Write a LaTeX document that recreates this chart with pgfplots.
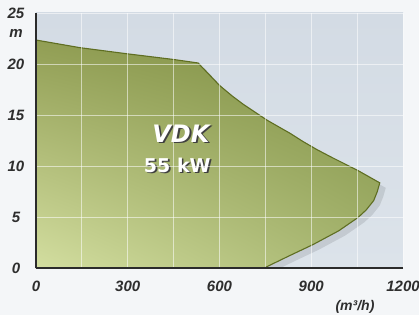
\documentclass[border=0pt]{standalone}
\usepackage{fontspec}
\setmainfont{Liberation Sans}
\newfontfamily\dejavu{DejaVu Sans}
\usepackage{pgfplots}
\pgfplotsset{compat=1.18}
\usetikzlibrary{shadings}
\definecolor{bgout}{HTML}{F4F6F8}
\definecolor{bgtop}{HTML}{D3DBE4}
\definecolor{bgbot}{HTML}{DCE3EA}
\definecolor{edge}{HTML}{5F6E22}
\definecolor{axcol}{HTML}{2B2B2B}
\definecolor{lab}{HTML}{2E2E2E}
\definecolor{gll}{RGB}{211,222,160}
\definecolor{gul}{RGB}{145,158,84}
\definecolor{glr}{RGB}{165,180,110}
\definecolor{gur}{RGB}{125,142,66}
\begin{document}
\begin{tikzpicture}
\fill[bgout] (-36pt,-47pt) rectangle (383pt,268pt);
\path[use as bounding box] (-36pt,-47pt) rectangle (383pt,268pt);
\begin{axis}[
  at={(0,0)}, anchor=south west,
  scale only axis, width=367pt, height=255pt,
  xmin=0, xmax=1200, ymin=0, ymax=25,
  axis on top,
  axis background/.style={top color=bgtop, bottom color=bgbot},
  axis x line*=bottom, axis y line*=left,
  axis line style={axcol, line width=2.2pt},
  x axis line style={-}, y axis line style={-},
  xtick={0,300,600,900,1200},
  minor xtick={150,450,750,1050},
  ytick={0,5,10,15,20,25},
  major tick length=0pt, minor tick length=0pt,
  grid=both,
  major grid style={white, opacity=0.55, line width=0.8pt},
  minor grid style={white, opacity=0.55, line width=0.8pt},
  /pgf/number format/assume math mode=true,
  /pgf/number format/1000 sep={},
  tick label style={font=\fontsize{15}{18}\selectfont\bfseries\itshape, text=lab},
  xticklabel style={anchor=center, yshift=-18pt},
  yticklabel style={anchor=center, xshift=-20pt},
  clip=true,
]
% shadow
\addplot[draw=none, fill=black, fill opacity=0.10, shift={(6pt,-5pt)}] coordinates {
  (530,20.1) (565,19.0) (600,17.9) (640,16.9) (680,16.0) (720,15.2) (755,14.5) (831,13.2) (873,12.4) (919,11.6) (970,10.8) (1050,9.6) (1124,8.35)
  (1116,7.5) (1104,6.6) (1080,5.7) (1053,4.95) (990,3.65) (906,2.3) (825,1.15) (746,0) (530,0)} -- cycle;
\addplot[draw=edge, line width=1.1pt,
  lower left=gll, upper left=gul, lower right=glr, upper right=gur]
 coordinates {
  (0,0) (0,22.35) (144,21.6) (298,21.0) (448,20.45) (530,20.1)
  (565,19.0) (600,17.9) (640,16.9) (680,16.0) (720,15.2) (755,14.5) (831,13.2) (873,12.4) (919,11.6) (970,10.8) (1050,9.6) (1124,8.35)
  (1116,7.5) (1104,6.6) (1080,5.7) (1053,4.95) (990,3.65) (906,2.3) (825,1.15) (746,0)} -- cycle;
\node[text=black!75, font=\dejavu\fontsize{24}{28}\selectfont\bfseries\itshape] at ([xshift=1.8pt,yshift=-1.8pt]axis cs:474,13.2) {VDK};
\node[text=white, font=\dejavu\fontsize{24}{28}\selectfont\bfseries\itshape] at (axis cs:474,13.2) {VDK};
\node[text=black!75, font=\dejavu\fontsize{19}{22}\selectfont\bfseries] at ([xshift=1.6pt,yshift=-1.6pt]axis cs:462,10.1) {55 kW};
\node[text=white, font=\dejavu\fontsize{19}{22}\selectfont\bfseries] at (axis cs:462,10.1) {55 kW};
\end{axis}
\node[text=lab, font=\fontsize{15}{18}\selectfont\bfseries\itshape] at (-20pt,235pt) {m};
\node[text=lab, font=\fontsize{14}{16}\selectfont\bfseries\itshape] at (319pt,-39pt) {(m³/h)};
\end{tikzpicture}
\end{document}
